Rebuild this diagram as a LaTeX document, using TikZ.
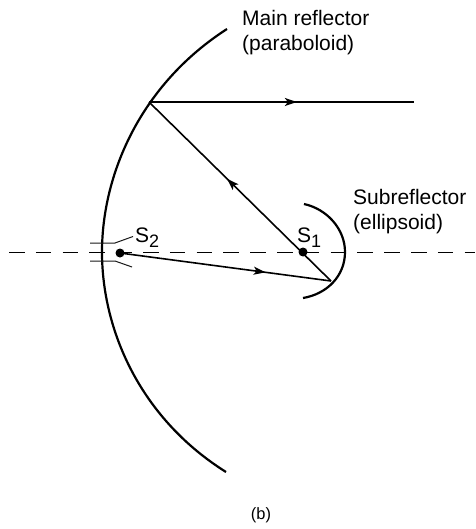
\documentclass[tikz,border=0pt]{standalone}
\usepackage{fontspec}
\setmainfont{Liberation Sans}
\usetikzlibrary{arrows.meta,decorations.markings}
\tikzset{
  ray/.style={line width=1.6pt},
  midarrow/.style={postaction={decorate,decoration={markings,mark=at position #1 with {\arrow{Stealth[length=12pt,width=8pt,inset=3pt]}}}}},
  mirror/.style={line width=2.2pt},
  feedline/.style={line width=1pt,black!90},
  lbl/.style={inner sep=0pt,align=left,anchor=north west,font=\fontsize{21}{25}\selectfont},
  sym/.style={inner sep=0pt,anchor=base west,font=\fontsize{21}{24}\selectfont},
  focus/.style={circle,fill=black,inner sep=0pt,minimum size=9pt}
}
\newcommand{\subnum}[1]{\raisebox{-5pt}{\fontsize{18}{20}\selectfont #1}}
\begin{document}
\begin{tikzpicture}[x=1pt,y=-1pt]
\useasboundingbox (0,0) rectangle (475,529);
\fill[white] (0,0) rectangle (475,529);
\coordinate (axisL) at (9,252);
\coordinate (axisR) at (475,252);
\coordinate (P) at (149,102);
\coordinate (Q) at (414,102);
\coordinate (R) at (331,281);
\draw[line width=1pt,dash pattern=on 15.5pt off 11.3pt] (axisL) -- (axisR);
% main reflector
\draw[mirror] (227,29) .. controls (140,85) and (102,175) .. (102,252) .. controls (102,330) and (140,418) .. (226,472);
% subreflector
\draw[mirror] (304,204) .. controls (327,209) and (345,229) .. (345,252) .. controls (345,276) and (327,294) .. (303,298);
% focus points
\node[focus] (S1) at (303,252) {};
\node[focus] (S2) at (120,253) {};
% rays
\draw[ray,midarrow=0.558] (P) -- (Q);
\draw[ray,midarrow=0.571] (R) -- (P);
\draw[ray,midarrow=0.69] (S2.center) -- (R);
% feed
\coordinate (f1) at (90,243); \coordinate (f2) at (115,243); \coordinate (f3) at (133,236.5);
\coordinate (g1) at (90,261); \coordinate (g2) at (115,261); \coordinate (g3) at (132,267);
\draw[feedline] (f1) -- (f2) -- (f3);
\draw[feedline] (g1) -- (g2) -- (g3);
% labels
\node[sym] (tS1) at (297,242) {S\subnum{1}};
\node[sym] (tS2) at (135,242) {S\subnum{2}};
\node[lbl] (main) at (242,10) {Main reflector\\(paraboloid)};
\node[lbl] (sub) at (353,189) {Subreflector\\(ellipsoid)};
\node[inner sep=0pt,font=\fontsize{16.4}{19}\selectfont] (cap) at (261,515) {(b)};
\end{tikzpicture}
\end{document}
